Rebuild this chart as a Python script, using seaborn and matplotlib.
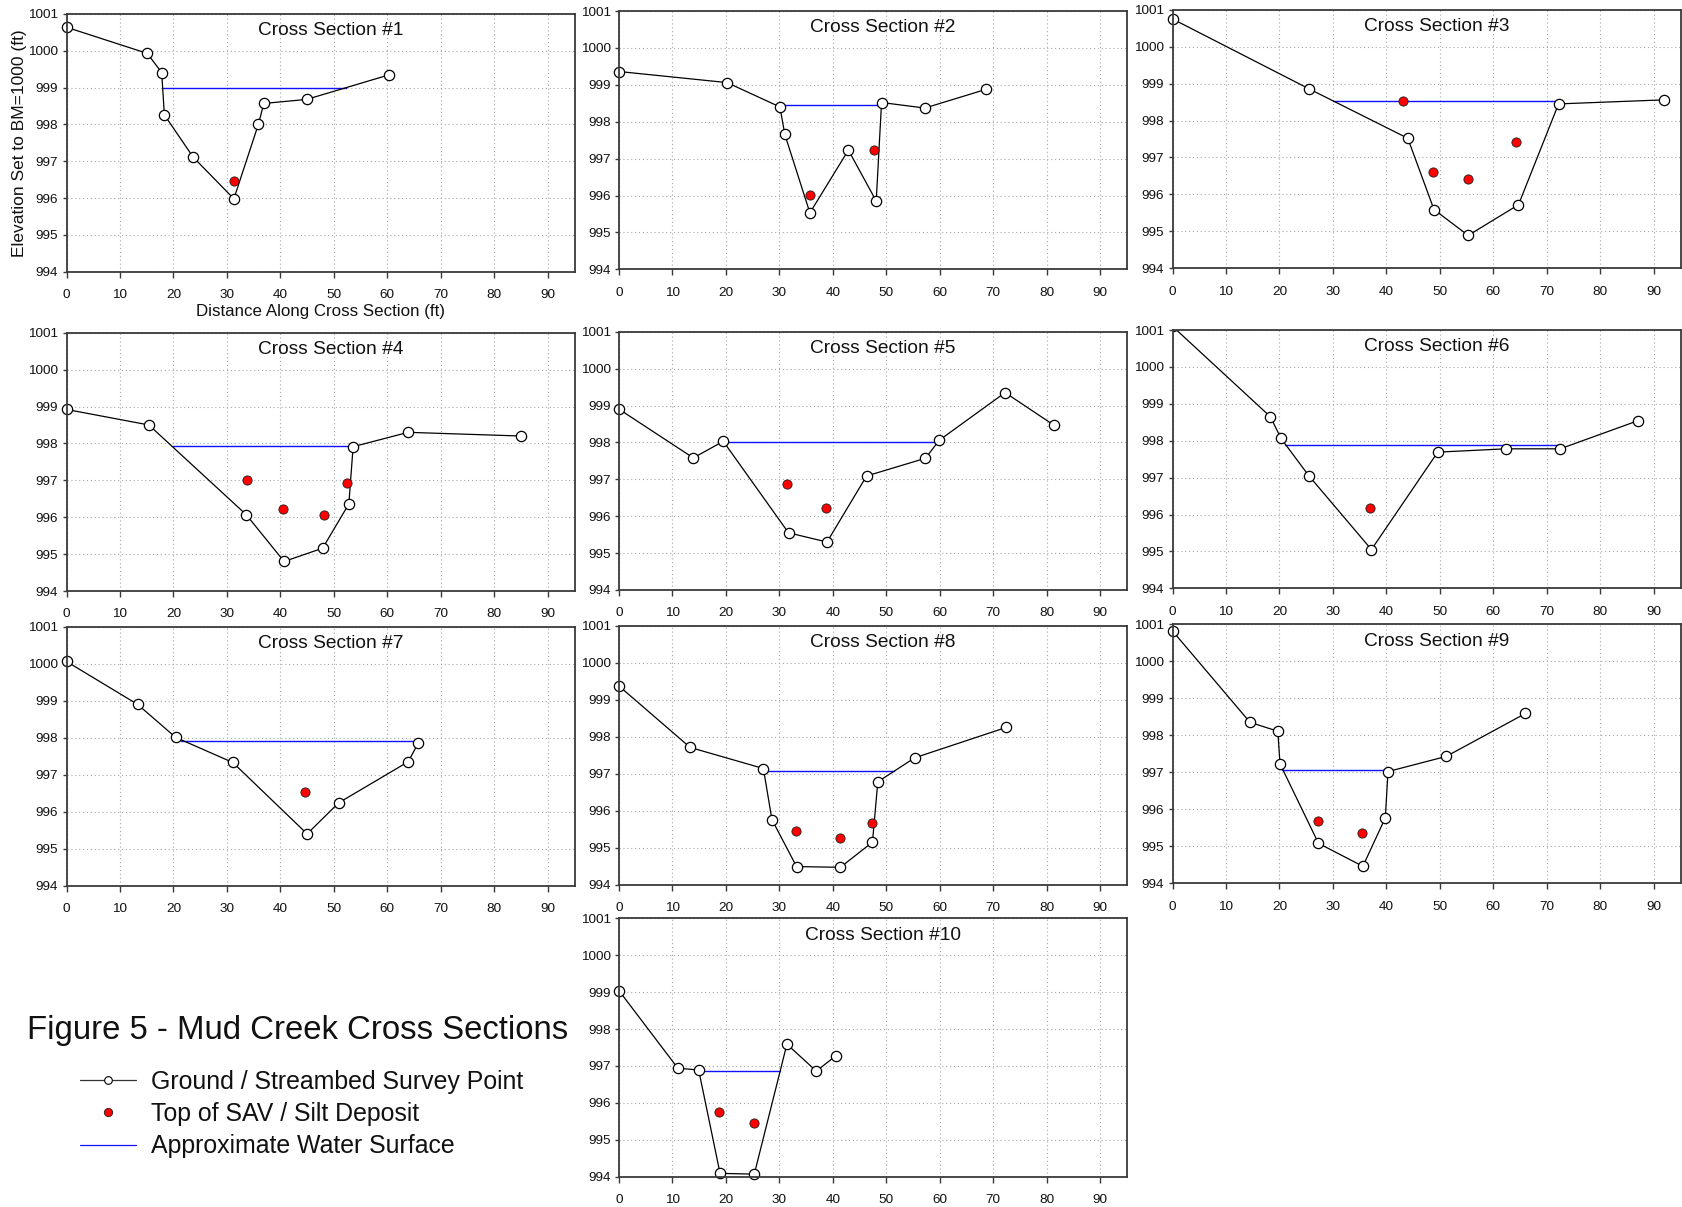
import matplotlib
matplotlib.use("Agg")
import matplotlib.pyplot as plt
from matplotlib.lines import Line2D
import pandas as pd
import seaborn as sns

# ---------------------------------------------------------------------------
# Survey data: distance along cross section (ft) and elevation (BM = 1000 ft)
# ---------------------------------------------------------------------------
sec1_x = [0.0, 15.1, 17.8, 18.3, 23.7, 31.3, 35.9, 36.9, 44.9, 60.4]
sec1_z = [1000.64, 999.93, 999.41, 998.26, 997.11, 995.98, 998.01, 998.57, 998.68, 999.35]
sec1_sav_x = [31.3]
sec1_sav_z = [996.47]

sec2_x = [0.0, 20.2, 30.1, 31.0, 35.7, 42.9, 48.1, 49.1, 57.2, 68.7]
sec2_z = [999.36, 999.06, 998.40, 997.66, 995.53, 997.23, 995.85, 998.52, 998.37, 998.88]
sec2_sav_x = [35.7, 47.7]
sec2_sav_z = [996.02, 997.22]

sec3_x = [0.0, 25.5, 44.0, 48.9, 55.3, 64.7, 72.2, 92.0]
sec3_z = [1000.75, 998.86, 997.52, 995.59, 994.89, 995.72, 998.45, 998.56]
sec3_sav_x = [43.1, 48.7, 55.2, 64.3]
sec3_sav_z = [998.52, 996.61, 996.43, 997.43]

sec4_x = [0.0, 15.4, 33.6, 40.7, 47.9, 52.8, 53.6, 63.9, 85.0]
sec4_z = [998.92, 998.50, 996.07, 994.80, 995.16, 996.36, 997.91, 998.30, 998.20]
sec4_sav_x = [33.8, 40.4, 48.1, 52.4]
sec4_sav_z = [997.01, 996.21, 996.07, 996.92]

sec5_x = [0.0, 13.9, 19.5, 31.7, 38.9, 46.3, 57.3, 59.9, 72.2, 81.4]
sec5_z = [998.90, 997.58, 998.03, 995.55, 995.30, 997.09, 997.57, 998.06, 999.35, 998.46]
sec5_sav_x = [31.5, 38.7]
sec5_sav_z = [996.87, 996.23]

sec6_x = [0.0, 18.3, 20.3, 25.5, 37.2, 49.6, 62.3, 72.5, 87.0]
sec6_z = [1001.10, 998.65, 998.06, 997.05, 995.05, 997.69, 997.78, 997.78, 998.54]
sec6_sav_x = [37.0]
sec6_sav_z = [996.18]

sec7_x = [0.0, 13.3, 20.4, 31.1, 45.0, 50.9, 63.9, 65.8]
sec7_z = [1000.06, 998.90, 998.01, 997.33, 995.40, 996.24, 997.35, 997.86]
sec7_sav_x = [44.6]
sec7_sav_z = [996.54]

sec8_x = [0.0, 13.3, 27.0, 28.6, 33.2, 41.4, 47.4, 48.4, 55.3, 72.4]
sec8_z = [999.37, 997.71, 997.14, 995.76, 994.49, 994.47, 995.15, 996.78, 997.43, 998.25]
sec8_sav_x = [33.1, 41.3, 47.3]
sec8_sav_z = [995.44, 995.26, 995.68]

sec9_x = [0.0, 14.5, 19.7, 20.1, 27.3, 35.6, 39.8, 40.3, 51.2, 66.0]
sec9_z = [1000.82, 998.35, 998.11, 997.23, 995.08, 994.46, 995.77, 997.02, 997.43, 998.59]
sec9_sav_x = [27.2, 35.4]
sec9_sav_z = [995.68, 995.37]

sec10_x = [0.0, 11.0, 14.9, 18.9, 25.3, 31.4, 36.9, 40.5]
sec10_z = [999.04, 996.94, 996.89, 994.09, 994.07, 997.59, 996.86, 997.27]
sec10_sav_x = [18.7, 25.2]
sec10_sav_z = [995.74, 995.45]

# Approximate water surface per section: elevation and wetted extent (ft)
water_level = [999.00, 998.45, 998.53, 997.93, 998.01, 997.88, 997.92, 997.07, 997.05, 996.85]
water_from = [18.0, 30.1, 30.0, 20.0, 20.0, 21.1, 21.4, 27.3, 20.4, 14.9]
water_to = [52.3, 48.9, 71.6, 53.6, 59.3, 72.5, 65.7, 51.5, 40.1, 30.1]

section_names = [f"Cross Section #{i}" for i in range(1, 11)]
x_ticks = list(range(0, 100, 10))
y_ticks = list(range(994, 1002))

ground_sets = [(sec1_x, sec1_z), (sec2_x, sec2_z), (sec3_x, sec3_z), (sec4_x, sec4_z),
               (sec5_x, sec5_z), (sec6_x, sec6_z), (sec7_x, sec7_z), (sec8_x, sec8_z),
               (sec9_x, sec9_z), (sec10_x, sec10_z)]
sav_sets = [(sec1_sav_x, sec1_sav_z), (sec2_sav_x, sec2_sav_z), (sec3_sav_x, sec3_sav_z),
            (sec4_sav_x, sec4_sav_z), (sec5_sav_x, sec5_sav_z), (sec6_sav_x, sec6_sav_z),
            (sec7_sav_x, sec7_sav_z), (sec8_sav_x, sec8_sav_z), (sec9_sav_x, sec9_sav_z),
            (sec10_sav_x, sec10_sav_z)]

ground = pd.concat([pd.DataFrame({"section": i + 1, "dist": gx, "elev": gz})
                    for i, (gx, gz) in enumerate(ground_sets)], ignore_index=True)
sav = pd.concat([pd.DataFrame({"section": i + 1, "dist": sx, "elev": sz})
                 for i, (sx, sz) in enumerate(sav_sets)], ignore_index=True)
water = pd.DataFrame({"section": range(1, 11), "level": water_level,
                      "x0": water_from, "x1": water_to})

# ---------------------------------------------------------------------------
# Figure layout (pixel boxes: left, top, bottom)
# ---------------------------------------------------------------------------
W, H = 1682, 1207
PANEL_W = 508
boxes = [
    (66.5, 14.0, 271.7), (619.0, 11.0, 269.3), (1172.5, 9.7, 268.3),
    (66.5, 332.7, 591.0), (619.0, 331.7, 590.0), (1172.5, 330.0, 588.3),
    (66.5, 626.7, 885.7), (619.0, 625.7, 884.7), (1172.5, 624.3, 883.3),
    (619.0, 918.3, 1176.7),
]

sns.set_theme(style="ticks")
plt.rcParams["font.family"] = ["Liberation Sans", "DejaVu Sans"]

fig = plt.figure(figsize=(W / 100, H / 100), dpi=100)
fig.patch.set_facecolor("white")

SPINE = "#3a3a3a"

for i, (left, top, bottom) in enumerate(boxes):
    sec = i + 1
    ax = fig.add_axes([left / W, 1 - bottom / H, PANEL_W / W, (bottom - top) / H])
    ax.set_facecolor("white")

    g = ground[ground.section == sec]
    s = sav[sav.section == sec]
    w = water[water.section == sec].iloc[0]

    # water surface
    sns.lineplot(x=[w.x0, w.x1], y=[w.level, w.level], color="#1010ff",
                 linewidth=1.0, ax=ax)
    # ground / streambed profile
    sns.lineplot(data=g, x="dist", y="elev", sort=False, estimator=None,
                 color="black", linewidth=0.9, marker="o", markersize=7.4,
                 markerfacecolor="white", markeredgecolor="black",
                 markeredgewidth=0.9, ax=ax)
    # SAV / silt deposit tops
    sns.scatterplot(data=s, x="dist", y="elev", s=44, color="red",
                    edgecolor="#202020", linewidth=0.6, zorder=5, ax=ax)

    clip = g.elev.max() > y_ticks[-1]
    for ln in ax.lines:
        ln.set_clip_on(clip)
    for coll in ax.collections:
        coll.set_clip_on(False)

    ax.set_xlim(0, 95)
    ax.set_ylim(994, 1001)
    ax.set_xticks(x_ticks)
    ax.set_yticks(y_ticks)
    ax.set_xticklabels([str(t) for t in x_ticks])
    ax.set_yticklabels([str(t) for t in y_ticks])
    ax.set_axisbelow(True)
    ax.grid(True, linestyle=(0, (1, 2.5)), color="#a8a8a8", linewidth=0.8)

    for sp in ax.spines.values():
        sp.set_visible(True)
        sp.set_color(SPINE)
        sp.set_linewidth(1.3)
    ax.tick_params(axis="x", direction="out", length=4.5, width=1.0,
                   color=SPINE, labelsize=9.7, labelcolor="#111111", pad=8)
    ax.tick_params(axis="y", direction="out", length=3, width=1.0,
                   color=SPINE, labelsize=9.7, labelcolor="#111111", pad=3)

    ax.text(0.52, 0.935, section_names[i], transform=ax.transAxes,
            ha="center", va="center", fontsize=13.8, color="#111111")

    if sec == 1:
        ax.set_xlabel("Distance Along Cross Section (ft)", fontsize=12.2,
                      labelpad=2, color="#111111")
        ax.set_ylabel("Elevation Set to BM=1000 (ft)", fontsize=12.5,
                      labelpad=1, color="#111111")
    else:
        ax.set_xlabel("")
        ax.set_ylabel("")

# Figure title and key
fig.text(27 / W, 1 - 1031 / H, "Figure 5 - Mud Creek Cross Sections",
         ha="left", va="center", fontsize=23.7, color="#111111")

handles = [
    Line2D([], [], color="#333333", linewidth=0.9, marker="o", markersize=5.5,
           markerfacecolor="white", markeredgecolor="black", markeredgewidth=0.8),
    Line2D([], [], linestyle="none", marker="o", markersize=6,
           markerfacecolor="red", markeredgecolor="#202020", markeredgewidth=0.6),
    Line2D([], [], color="#1010ff", linewidth=0.9),
]
labels = ["Ground / Streambed Survey Point", "Top of SAV / Silt Deposit",
          "Approximate Water Surface"]
fig.legend(handles, labels, loc="center left",
           bbox_to_anchor=(80 / W, 1 - 1114 / H), frameon=False,
           fontsize=17.9, handlelength=2.25, handletextpad=0.6,
           labelspacing=0.34, borderpad=0, borderaxespad=0,
           labelcolor="#111111")

fig.savefig("out.png", dpi=100, facecolor="white")
